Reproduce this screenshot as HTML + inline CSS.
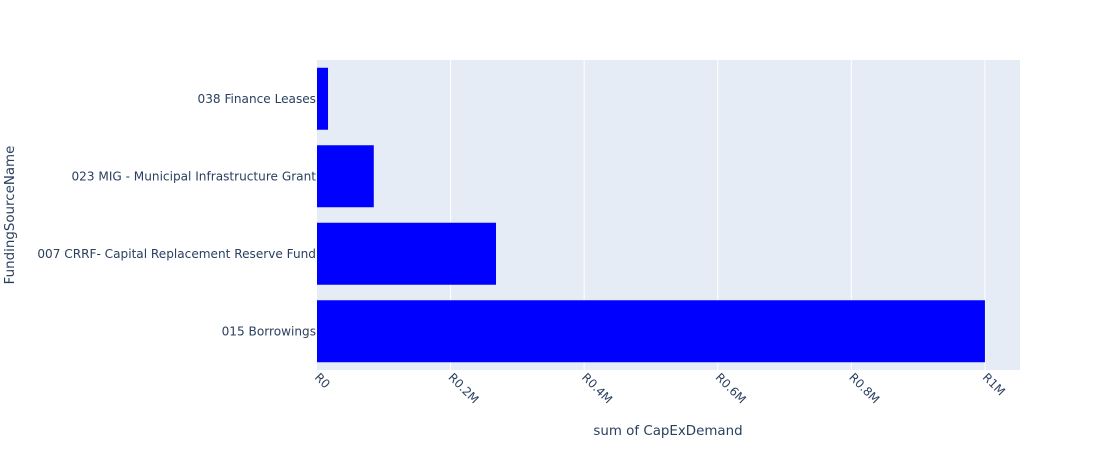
<!DOCTYPE html>
<html><head><meta charset="utf-8"><style>
body{margin:0;background:#fff;}
text{font-family:"DejaVu Sans","Liberation Sans",Arial,sans-serif;fill:#2a3f5f;}
</style></head><body>
<svg id="chart" width="1100" height="450">
<rect x="0" y="0" width="1100" height="450" fill="#fff"/>
<rect x="317" y="60" width="703" height="310" fill="#e5ecf6"/>
<g id="grid"></g><g id="bars"></g><g id="xticks"></g><g id="yticks"></g>
<text x="668" y="435" text-anchor="middle" font-size="13.4">sum of CapExDemand</text>
<text transform="translate(14,215) rotate(-90)" text-anchor="middle" font-size="13.4">FundingSourceName</text>
</svg>
<script>
const categories=["038 Finance Leases","023 MIG - Municipal Infrastructure Grant","007 CRRF- Capital Replacement Reserve Fund","015 Borrowings"];
const values=[16500,85000,268000,1000000];
const tickValues=[0,200000,400000,600000,800000,1000000];
const tickLabels=["R0","R0.2M","R0.4M","R0.6M","R0.8M","R1M"];
const NS="http://www.w3.org/2000/svg";
const x0=317,x1=1020,xmax=1052500,yTop=60,yBot=370;
const xs=v=>x0+(v/xmax)*(x1-x0);
const band=(yBot-yTop)/categories.length;
function mk(tag,attrs,parent,txt){const e=document.createElementNS(NS,tag);for(const k in attrs)e.setAttribute(k,attrs[k]);if(txt!==undefined)e.textContent=txt;document.getElementById(parent).appendChild(e);return e;}
tickValues.forEach((t,i)=>{
  const x=xs(t);
  if(t>0){const g=mk('line',{x1:x,x2:x,y1:yTop,y2:yBot,stroke:'#fff','stroke-width':1},'grid');
  
  }
  const l=mk('text',{transform:`translate(${x-3},${yBot+8}) rotate(45)`,'font-size':11.8,'text-anchor':'start'},'xticks',tickLabels[i]);
  
  
});
categories.forEach((c,i)=>{
  const cy=yTop+band*(i+0.5);
  const b=mk('rect',{x:x0,y:cy-band*0.4,width:xs(values[i])-x0,height:band*0.8,fill:'#0000ff'},'bars');
  
  
  const t=mk('text',{x:x0-1,y:cy+4,'font-size':12.1,'text-anchor':'end'},'yticks',c);
  
  
});
</script>
</body></html>
